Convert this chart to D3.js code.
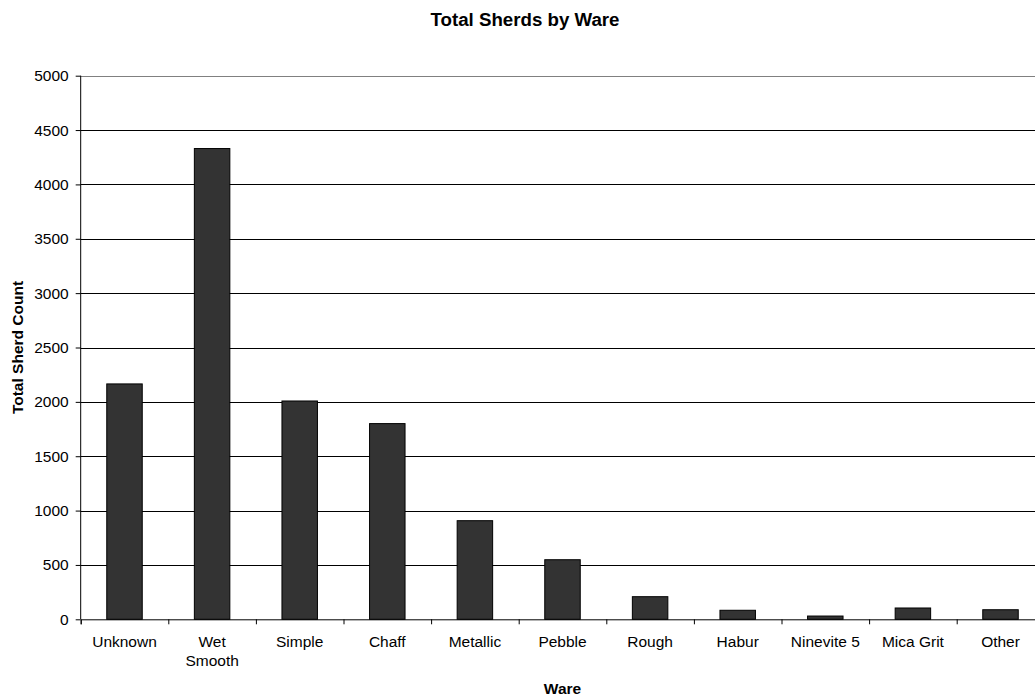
<!DOCTYPE html>
<html lang="en">
<head>
<meta charset="UTF-8">
<title>Total Sherds by Ware</title>
<script src="https://d3js.org/d3.v7.min.js"></script>
<style>
  body { margin: 0; background: #fff; }
  text { font-family: "Liberation Sans", Arial, sans-serif; fill: #000; }
  .grid line { stroke: #000; stroke-width: 1px; }
  .bar { fill: #333333; stroke: #000; stroke-width: 1px; }
</style>
</head>
<body>
<div class="graph"></div>
<script>
  // data
  var wares = ["Unknown", "Wet Smooth", "Simple", "Chaff", "Metallic", "Pebble",
               "Rough", "Habur", "Ninevite 5", "Mica Grit", "Other"];
  var sherdCounts = [2165, 4330, 2008, 1800, 907, 548, 208, 83, 30, 104, 88];
  var yTicks = [0, 500, 1000, 1500, 2000, 2500, 3000, 3500, 4000, 4500, 5000];

  var W = 1035, H = 696;
  var plotLeft = 80.7, plotRight = 1044.3, plotTop = 75.7, plotBottom = 619.3;

  var svg = d3.select(".graph").append("svg")
      .attr("width", W)
      .attr("height", H);

  svg.append("rect").attr("width", W).attr("height", H).attr("fill", "#fff");

  var x = d3.scaleBand()
      .domain(wares)
      .range([plotLeft, plotRight])
      .paddingInner(0.595)
      .paddingOuter(0.2975);

  var y = d3.scaleLinear()
      .domain([0, 5000])
      .range([plotBottom, plotTop]);

  // horizontal gridlines
  svg.append("g")
      .attr("class", "grid")
      .selectAll("line")
      .data(yTicks.filter(function (d) { return d > 0; }))
      .enter().append("line")
      .attr("x1", plotLeft).attr("x2", plotRight)
      .attr("y1", function (d) { return Math.round(y(d)) + 0.5; })
      .attr("y2", function (d) { return Math.round(y(d)) + 0.5; })
      .style("stroke", function (d) { return d === 5000 ? "#808080" : "#000"; });

  // bars
  svg.append("g")
      .selectAll("rect")
      .data(sherdCounts)
      .enter().append("rect")
      .attr("class", "bar")
      .attr("x", function (d, i) { return x(wares[i]); })
      .attr("width", x.bandwidth())
      .attr("y", function (d) { return y(d); })
      .attr("height", function (d) { return y(0) - y(d); });

  // y axis
  var yAxis = d3.axisLeft(y)
      .tickValues(yTicks)
      .tickFormat(d3.format("d"))
      .tickSize(5)
      .tickPadding(7);

  var gy = svg.append("g")
      .attr("transform", "translate(" + plotLeft + ",0)")
      .call(yAxis);
  gy.select(".domain").attr("d", "M0," + plotTop + "V" + plotBottom).attr("stroke", "#000");
  gy.selectAll(".tick line").attr("stroke", "#000");
  gy.selectAll("text").style("font-size", "15.5px");

  // x axis: tick marks sit between categories
  var xEdges = d3.scaleLinear().domain([0, wares.length]).range([plotLeft, plotRight]);
  var gxTicks = svg.append("g")
      .attr("transform", "translate(0," + plotBottom + ")")
      .call(d3.axisBottom(xEdges)
          .tickValues(d3.range(0, wares.length + 1))
          .tickSize(5)
          .tickFormat(""));
  gxTicks.select(".domain").attr("stroke", "#000");
  gxTicks.selectAll(".tick line").attr("stroke", "#000");

  var gx = svg.append("g")
      .attr("transform", "translate(0," + plotBottom + ")")
      .call(d3.axisBottom(x).tickSize(0).tickPadding(16.6));
  gx.select(".domain").remove();
  gx.selectAll("text").style("font-size", "15.5px").call(wrap, 80);

  function wrap(texts, maxWidth) {
    texts.each(function () {
      var t = d3.select(this);
      if (this.getComputedTextLength() <= maxWidth) return;
      var words = t.text().split(" ");
      var yy = t.attr("y"), dy = t.attr("dy");
      t.text(null);
      words.forEach(function (w, i) {
        t.append("tspan")
          .attr("x", 0)
          .attr("y", yy)
          .attr("dy", i === 0 ? dy : (parseFloat(dy) + i * 1.22) + "em")
          .text(w);
      });
    });
  }

  // titles
  svg.append("text")
      .attr("x", 525)
      .attr("y", 26)
      .attr("text-anchor", "middle")
      .style("font-size", "18.7px")
      .style("font-weight", "bold")
      .text("Total Sherds by Ware");

  svg.append("text")
      .attr("x", (plotLeft + plotRight) / 2)
      .attr("y", 694)
      .attr("text-anchor", "middle")
      .style("font-size", "15.5px")
      .style("font-weight", "bold")
      .text("Ware");

  svg.append("text")
      .attr("transform", "translate(23," + (plotTop + plotBottom) / 2 + ") rotate(-90)")
      .attr("text-anchor", "middle")
      .style("font-size", "15.5px")
      .style("font-weight", "bold")
      .text("Total Sherd Count");
</script>
</body>
</html>
